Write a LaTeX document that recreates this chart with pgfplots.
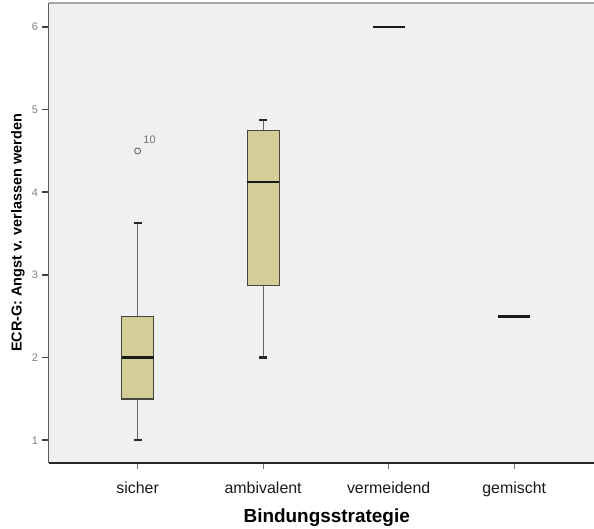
\documentclass[border=0pt]{standalone}
\usepackage{pgfplots}
\pgfplotsset{compat=1.18}
\usepgfplotslibrary{statistics}
\usepackage{fontspec}
\setmainfont{Liberation Sans}
\definecolor{boxfill}{RGB}{211,206,151}
\definecolor{bg}{RGB}{240,240,240}
\definecolor{boxline}{RGB}{70,70,60}
\begin{document}
\begin{tikzpicture}
\begin{axis}[
  scale only axis, width=545.5bp, height=460bp,
  xmin=0.29, xmax=4.636, ymin=0.725, ymax=6.29,
  axis background/.style={fill=bg},
  axis x line*=bottom, axis y line*=left,
  x axis line style={line width=1.8bp, draw=black!85, -},
  y axis line style={line width=1.8bp, draw=black!65, -},
  xtick={1,2,3,4},
  xticklabels={sicher,ambivalent,vermeidend,gemischt},
  ytick={1,2,3,4,5,6},
  tick align=outside,
  major tick length=6bp,
  xtick style={draw=black!55, line width=0.8bp},
  ytick style={draw=black!75, line width=1.6bp},
  /pgf/number format/assume math mode=true,
  yticklabel style={font=\fontsize{11}{11}\selectfont, text=black!50, xshift=-1bp},
  xticklabel style={font=\fontsize{16}{16}\selectfont, text=black!90, yshift=-9bp},
  xlabel={\textbf{Bindungsstrategie}},
  ylabel={\textbf{ECR-G: Angst v. verlassen werden}},
  xlabel style={font=\fontsize{19}{19}\selectfont, at={(axis description cs:0.51,-0.1196)}, anchor=center},
  ylabel style={font=\fontsize{14.5}{14.5}\selectfont, at={(axis description cs:-0.0559,0.5)}, anchor=center},
  boxplot/draw direction=y,
  boxplot/box extend=0.255,
  boxplot/whisker extend=0.065,
  boxplot/every median/.style={line width=2.6bp, draw=black!90},
  boxplot/every whisker/.style={draw=black!60, line width=1bp},
  boxplot/every box/.style={draw=boxline, line width=1.2bp, fill=boxfill},
  boxplot/draw/lower whisker/.code={
    \draw[/pgfplots/boxplot/every whisker] (boxplot cs:\pgfplotsboxplotvalue{lower whisker}) -- (boxplot cs:\pgfplotsboxplotvalue{lower quartile});
    \draw[line width=2.4bp, draw=black!85] (boxplot whisker cs:\pgfplotsboxplotvalue{lower whisker},0) -- (boxplot whisker cs:\pgfplotsboxplotvalue{lower whisker},1);
  },
  boxplot/draw/upper whisker/.code={
    \draw[/pgfplots/boxplot/every whisker] (boxplot cs:\pgfplotsboxplotvalue{upper whisker}) -- (boxplot cs:\pgfplotsboxplotvalue{upper quartile});
    \draw[line width=2.4bp, draw=black!85] (boxplot whisker cs:\pgfplotsboxplotvalue{upper whisker},0) -- (boxplot whisker cs:\pgfplotsboxplotvalue{upper whisker},1);
  },
]
% sicher (with outlier case 10)
\addplot[boxplot prepared={draw position=1, lower whisker=1, lower quartile=1.5, median=2, upper quartile=2.5, upper whisker=3.625},
  mark=o, mark size=3bp, mark options={draw=black!60, line width=0.9bp, fill=none}]
  table[row sep=\\, y index=0] {y\\ 4.5\\};
% ambivalent
\addplot[boxplot prepared={draw position=2, lower whisker=2, lower quartile=2.875, median=4.125, upper quartile=4.75, upper whisker=4.875}]
  coordinates {};
% vermeidend
\addplot[boxplot prepared={draw position=3, lower whisker=6, lower quartile=6, median=6, upper quartile=6, upper whisker=6},
  boxplot/every box/.style={draw=none}]
  coordinates {};
% gemischt
\addplot[boxplot prepared={draw position=4, lower whisker=2.5, lower quartile=2.5, median=2.5, upper quartile=2.5, upper whisker=2.5},
  boxplot/every box/.style={draw=none}]
  coordinates {};
\node[font=\fontsize{11}{11}\selectfont, text=black!55] at (axis cs:1.095,4.63) {10};
\end{axis}
\draw[black!35, line width=1.8bp] (current axis.north west) -- (current axis.north east);
\pgfresetboundingbox
\path[use as bounding box] ([xshift=-48.5bp,yshift=-66bp]current axis.south west) rectangle ([yshift=3bp]current axis.north east);
\end{tikzpicture}
\end{document}
